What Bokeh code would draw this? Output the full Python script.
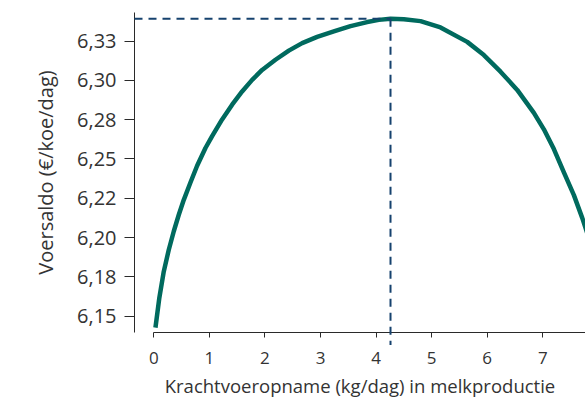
from bokeh.plotting import figure
from bokeh.models import Range1d, FixedTicker, ColumnDataSource
from bokeh.embed import file_html
from bokeh.resources import INLINE

# Data
kv_x = [0.03, 0.10, 0.18, 0.27, 0.36, 0.45, 0.54, 0.66, 0.78, 0.93, 1.05, 1.23,
        1.41, 1.59, 1.77, 1.95, 2.19, 2.43, 2.67, 2.94, 3.24, 3.54, 3.84, 4.05,
        4.26, 4.50, 4.80, 5.16, 5.64, 5.94, 6.24, 6.54, 6.84, 7.02, 7.20, 7.38,
        7.56, 7.71, 7.85]
voersaldo = [6.1426, 6.1616, 6.1784, 6.1922, 6.2040, 6.2145, 6.2240, 6.2350,
             6.2457, 6.2570, 6.2646, 6.2752, 6.2846, 6.2930, 6.3004, 6.3067,
             6.3132, 6.3190, 6.3238, 6.3278, 6.3313, 6.3346, 6.3372, 6.3386,
             6.3393, 6.3390, 6.3378, 6.3338, 6.3246, 6.3162, 6.3056, 6.2940,
             6.2794, 6.2689, 6.2563, 6.2415, 6.2270, 6.2125, 6.1975]

x_ticks = [0, 1, 2, 3, 4, 5, 6, 7]
y_ticks = [6.15, 6.175, 6.2, 6.225, 6.25, 6.275, 6.3, 6.325]
y_tick_labels = ["6,15", "6,18", "6,20", "6,22", "6,25", "6,28", "6,30", "6,33"]

x_title = "Krachtvoeropname (kg/dag) in melkproductie"
y_title = "Voersaldo (€/koe/dag)"

X0, X1 = -0.347, 7.769
Y0, Y1 = 6.1395, 6.3433

FONT = "Open Sans"
TXT = "#333333"
AX = "#2a2a2a"

p = figure(width=585, height=400, output_backend="svg", toolbar_location=None,
           x_range=Range1d(X0, X1), y_range=Range1d(Y0, Y1),
           min_border_left=134, min_border_right=0, min_border_top=12,
           min_border_bottom=65)
p.outline_line_color = None
p.xgrid.visible = False
p.ygrid.visible = False
p.background_fill_color = "white"
p.border_fill_color = "white"

# peak of the curve
i_max = max(range(len(voersaldo)), key=lambda i: voersaldo[i])
peak_x, peak_y = kv_x[i_max], voersaldo[i_max]

src = ColumnDataSource(dict(x=kv_x, y=voersaldo))
p.line("x", "y", source=src, line_color="#006A5E", line_width=4.5,
       line_join="round")

dash_col = "#16426E"
p.segment(x0=[X0], y0=[peak_y], x1=[peak_x], y1=[peak_y], line_color=dash_col,
          line_width=2, line_dash="8 6", level="overlay")
p.segment(x0=[peak_x], y0=[peak_y], x1=[peak_x], y1=[Y0 - 0.008], line_color=dash_col,
          line_width=2, line_dash="8 6", level="overlay")

# x axis
xa = p.xaxis[0]
xa.ticker = FixedTicker(ticks=x_ticks)
xa.bounds = (0, X1)
xa.axis_line_color = AX
xa.major_tick_line_color = AX
xa.major_tick_out = 5
xa.major_tick_in = 0
xa.minor_tick_line_color = None
xa.major_label_text_font = FONT
xa.major_label_text_font_size = "17px"
xa.major_label_text_color = TXT
xa.major_label_standoff = 14
xa.axis_label = x_title
xa.axis_label_text_font = FONT
xa.axis_label_text_font_size = "18.5px"
xa.axis_label_text_font_style = "normal"
xa.axis_label_text_color = TXT
xa.axis_label_standoff = 6

# y axis
ya = p.yaxis[0]
ya.ticker = FixedTicker(ticks=y_ticks)
ya.major_label_overrides = {t: l for t, l in zip(y_ticks, y_tick_labels)}
ya.bounds = (Y0 - 0.0026, Y1)
ya.axis_line_color = AX
ya.major_tick_line_color = AX
ya.major_tick_out = 10
ya.major_tick_in = 0
ya.minor_tick_line_color = None
ya.major_label_text_font = FONT
ya.major_label_text_font_size = "20px"
ya.major_label_text_color = TXT
ya.major_label_standoff = 8
ya.axis_label = y_title
ya.axis_label_text_font = FONT
ya.axis_label_text_font_size = "20px"
ya.axis_label_text_font_style = "normal"
ya.axis_label_text_color = TXT
ya.axis_label_standoff = 15

open("out.html", "w").write(file_html(p, INLINE))
